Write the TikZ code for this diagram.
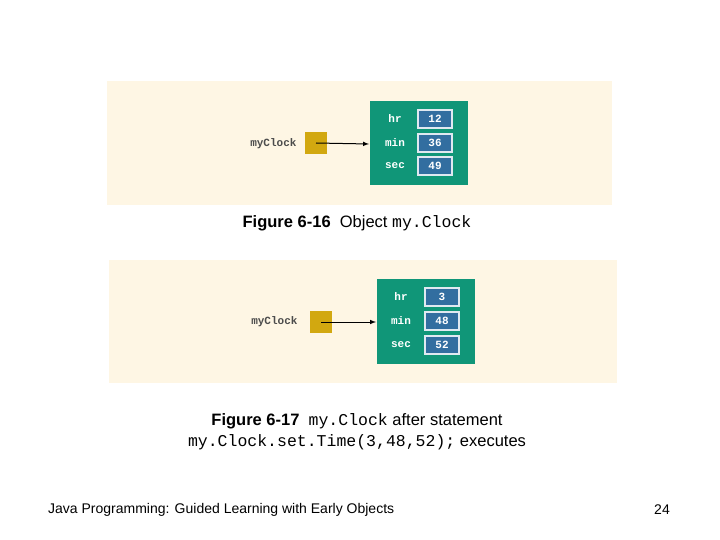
\documentclass[tikz,border=0pt]{standalone}
\usepackage{fontspec}
\setmainfont{Liberation Sans}
\setmonofont{Liberation Mono}
\begin{document}
\begin{tikzpicture}[x=1pt,y=-1pt,
  panel/.style={fill=bgc,draw=none},
  obj/.style={fill=grn,draw=none},
  val/.style={fill=blu,draw=white!85!blu,line width=1.2pt,text=white,font=\ttfamily\bfseries\fontsize{11}{12}\selectfont},
  fld/.style={text=white,font=\ttfamily\bfseries\fontsize{11}{12}\selectfont},
  ref/.style={fill=ylw,draw=none},
  lab/.style={text=black!70,font=\ttfamily\bfseries\fontsize{11}{12}\selectfont},
  arr/.style={-latex,line width=1pt},
  captxt/.style={font=\fontsize{16.5}{21}\selectfont,align=center}]
\definecolor{bgc}{RGB}{254,246,228}
\definecolor{grn}{RGB}{16,150,120}
\definecolor{blu}{RGB}{50,110,160}
\definecolor{ylw}{RGB}{210,168,16}
\useasboundingbox (0,0) rectangle (720,540);
% panel 1
\fill[panel] (107,81) rectangle (612,205);
\fill[obj] (370,101) rectangle (468,185);
\coordinate (o1w) at (369,144);
\foreach \n/\v/\y in {hr/12/119,min/36/143,sec/49/166}{
  \node[fld] (f1\n) at (395,\y) {\n};
  \node[val,minimum width=34pt,minimum height=18pt,inner sep=0] (v1\n) at (435,\y) {\v};
}
\node[ref,minimum size=22pt,inner sep=0] (r1) at (316,143) {};
\node[lab,anchor=east] (l1) at (300,144) {myClock};
\draw[arr] (r1.center) -- (o1w);
\node[captxt] (c1) at (357,223) {\textbf{Figure 6-16} \ Object \texttt{my.Clock}};
% panel 2
\fill[panel] (109,260) rectangle (617,383);
\fill[obj] (377,279) rectangle (475,364);
\coordinate (o2w) at (376,322);
\foreach \n/\v/\y in {hr/3/297,min/48/321,sec/52/345}{
  \node[fld] (f2\n) at (401,\y) {\n};
  \node[val,minimum width=34pt,minimum height=18pt,inner sep=0] (v2\n) at (442,\y) {\v};
}
\node[ref,minimum size=22pt,inner sep=0] (r2) at (321,322) {};
\node[lab,anchor=east] (l2) at (301,322) {myClock};
\draw[arr] (r2.center) -- (o2w);
\node[captxt] (c2) at (357,432) {\textbf{Figure 6-17} \ \texttt{my.Clock} after statement\\\texttt{my.Clock.set.Time(3,48,52);} executes};
% footer
\node[anchor=west,font=\fontsize{14}{16}\selectfont,inner sep=0] (ft) at (48,510) {Java Programming: Guided Learning with Early Objects};
\node[font=\fontsize{14}{16}\selectfont] (pg) at (662,510) {24};
\end{tikzpicture}
\end{document}
